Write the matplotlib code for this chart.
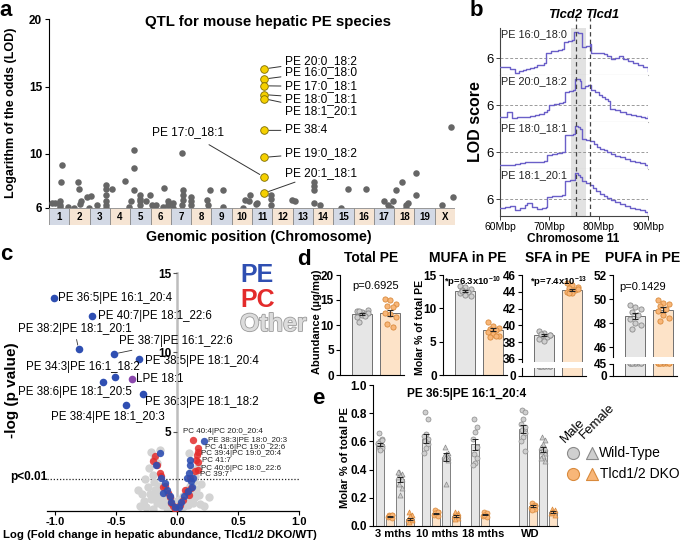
import matplotlib
matplotlib.use("Agg")
import matplotlib.pyplot as plt
import matplotlib.patheffects as pe
from matplotlib.patches import Rectangle
import numpy as np

plt.rcParams["font.family"] = ["Liberation Sans", "DejaVu Sans"]
plt.rcParams["mathtext.fontset"] = "custom"
plt.rcParams["mathtext.rm"] = "Liberation Sans"
plt.rcParams["mathtext.bf"] = "Liberation Sans:bold"

# ---------------- data ----------------
# panel a: QTL hits (chromosome, relative position in chromosome, LOD)
chrom_names = ["1", "2", "3", "4", "5", "6", "7", "8", "9", "10",
               "11", "12", "13", "14", "15", "16", "17", "18", "19", "X"]
qtl_chr = [1, 1, 1, 1, 1, 1, 1, 1, 2, 2, 2, 2, 2, 2, 2, 3, 3, 3, 3, 3, 3, 3, 3,
           4, 4, 4, 5, 5, 5, 5, 5, 5, 5, 5, 5, 5, 6, 6, 6, 6, 6, 6, 6, 7, 7,
           7, 7, 7, 7, 7, 8, 8, 8, 8, 8, 8, 9, 9, 10, 10, 10, 10, 11, 11, 11,
           11, 11, 12, 13, 14, 14, 14, 14, 14, 15, 15, 16, 17, 17, 17, 17, 18,
           18, 18, 18, 18, 19, 19, 20, 20, 20]
qtl_pos = [.15, .30, .54, .54, .54, .64, .59, .94, .23, .43, .48, .58, .55, .87,
           .97, .07, .36, .81, .81, .81, .81, .81, .81, .10, .74, .94, .20, .20,
           .20, .48, .48, .48, .48, .78, .98, .03, .08, .27, .18, .67, .62, .86,
           .86, .10, .10, .55, .60, .60, .60, .55, .00, .00, .00, .78, .82, .93,
           .57, .57, .56, .65, .85, .90, .20, .25, .94, .94, .94, .97, .10, .05,
           .05, .05, .05, .35, .40, .73, .60, .50, .70, .95, .85, .10, .40, .60,
           .70, .60, .10, .10, .36, .90, .80]
qtl_lod = [6.4, 6.4, 6.5, 6.25, 6.05, 9.2, 7.9, 6.1, 6.0, 7.9, 7.4, 6.5, 6.3,
           6.8, 6.0, 6.9, 6.2, 7.7, 7.4, 7.0, 6.5, 6.2, 6.0, 7.4, 8.0, 6.1, 10.3,
           9.0, 7.3, 7.0, 6.7, 6.5, 6.2, 6.5, 7.0, 6.5, 6.25, 6.2, 6.05, 7.5,
           6.05, 6.5, 6.2, 6.4, 6.0, 10.1, 7.3, 7.0, 6.6, 6.2, 6.8, 6.5, 6.2,
           6.6, 6.2, 7.3, 7.3, 6.1, 6.0, 6.6, 6.5, 7.0, 6.3, 6.4, 7.0, 6.7, 6.2,
           6.6, 6.5, 7.9, 7.6, 7.3, 6.4, 6.2, 6.0, 7.4, 7.4, 6.5, 6.2, 6.5, 6.0,
           7.3, 7.9, 6.2, 6.4, 6.0, 8.6, 7.0, 6.2, 6.8, 12.0]
hit_chr = 11
hit_pos = 0.59
hit_names = ["PE 20:0_18:2", "PE 16:0_18:0", "PE 17:0_18:1", "PE 18:0_18:1",
             "PE 18:1_20:1", "PE 38:4", "PE 19:0_18:2", "PE 20:1_18:1"]
hit_lod = [16.3, 15.55, 15.05, 14.4, 14.1, 11.75, 9.75, 7.1]
extra_hit_name = "PE 17:0_18:1"
extra_hit_lod = 8.3

# panel b: LOD profiles along chromosome 11
b_names = ["PE 16:0_18:0", "PE 20:0_18:2", "PE 18:0_18:1", "PE 18:1_20:1"]
b_mbp1 = [60.0, 61.0, 62.0, 63.0, 63.8, 64.6, 65.3, 66.0, 66.8, 67.5, 68.3, 69.0,
          69.4, 70.3, 71.0, 71.8, 72.5, 72.9, 73.8, 74.6, 74.9, 75.8, 76.3, 76.6,
          77.5, 78.3, 78.5, 79.5, 80.5, 81.0, 81.6, 82.6, 83.3, 84.1, 85.0, 86.0,
          87.0, 88.0, 89.0, 90.0]
b_lod1 = [5.3, 5.25, 5.1, 4.8, 4.9, 5.0, 5.1, 5.2, 5.25, 5.4, 5.45, 5.6, 6.45,
          6.55, 6.6, 6.65, 6.75, 7.35, 7.4, 7.5, 8.2, 8.1, 8.05, 6.95, 7.0, 7.2,
          6.4, 6.45, 6.4, 6.35, 6.2, 5.95, 6.0, 6.15, 5.95, 5.8, 5.6, 5.45, 5.3,
          4.9]
b_mbp2 = [60.0, 61.5, 62.5, 63.5, 64.5, 66.0, 67.0, 68.0, 69.0, 69.5, 70.0, 71.0,
          72.0, 72.8, 73.2, 74.0, 74.8, 75.2, 75.7, 76.2, 76.5, 77.2, 77.8, 78.5,
          79.2, 80.0, 80.7, 81.3, 81.9, 82.3, 83.3, 84.3, 85.5, 86.5, 87.5, 88.5,
          89.4, 90.0]
b_lod2 = [5.03, 5.45, 4.9, 5.0, 5.03, 5.1, 5.2, 5.3, 5.45, 5.6, 6.0, 6.08, 6.2,
          6.28, 7.05, 7.15, 7.25, 8.2, 8.15, 8.0, 7.4, 7.55, 7.7, 7.25, 7.05,
          6.85, 6.7, 6.5, 6.35, 5.72, 5.6, 5.45, 5.3, 5.2, 5.1, 5.03, 4.97,
          5.08]
b_mbp3 = [60.0, 61.0, 62.0, 63.0, 64.0, 65.0, 66.0, 67.0, 68.0, 69.0, 69.5, 70.5,
          71.5, 72.5, 73.2, 74.0, 74.8, 75.2, 75.8, 76.3, 76.7, 77.5, 78.3, 79.0,
          79.7, 80.3, 81.0, 81.7, 82.5, 83.3, 84.3, 85.3, 86.4, 87.4, 88.4, 89.4,
          90.0]
b_lod3 = [4.9, 4.95, 4.97, 5.03, 5.08, 5.17, 5.22, 5.17, 5.22, 5.3, 5.78, 5.83,
          5.9, 6.0, 7.4, 7.45, 7.52, 8.15, 8.08, 7.95, 7.05, 6.97, 6.9, 6.7, 6.42,
          6.28, 6.14, 6.0, 5.86, 5.72, 5.58, 5.45, 5.3, 5.17, 5.08, 4.95, 4.6]
b_mbp4 = [60.0, 61.0, 62.0, 63.0, 64.0, 65.0, 65.5, 66.5, 67.5, 68.5, 69.3, 69.5,
          70.5, 71.5, 72.5, 73.2, 74.2, 75.2, 75.8, 76.2, 76.7, 77.5, 78.3, 78.8,
          79.5, 80.3, 81.0, 81.7, 82.5, 83.3, 84.3, 85.3, 86.4, 87.4, 88.4, 89.4,
          90.0]
b_lod4 = [5.25, 5.33, 5.44, 5.1, 5.25, 5.53, 5.67, 5.33, 5.17, 5.25, 5.33, 6.17,
          6.22, 6.28, 6.36, 7.5, 7.58, 8.17, 8.03, 7.83, 7.47, 7.33, 7.2, 6.92,
          6.64, 6.44, 6.22, 6.06, 5.89, 5.78, 5.61, 5.44, 5.3, 5.19, 5.11, 4.97,
          4.7]
tlcd2_mbp = 75.4
tlcd1_mbp = 78.3
peak_band = (74.4, 77.4)

# panel c: volcano plot (log fold change, -log p)
c_named = ["PE 36:5|PE 16:1_20:4", "PE 40:7|PE 18:1_22:6", "PE 38:2|PE 18:1_20:1",
           "PE 38:7|PE 16:1_22:6", "PE 38:5|PE 18:1_20:4", "PE 34:3|PE 16:1_18:2",
           "PE 38:6|PE 18:1_20:5", "PE 36:3|PE 18:1_18:2", "PE 38:4|PE 18:1_20:3"]
c_named_x = [-1.01, -0.694, -0.806, -0.514, -0.309, -0.506, -0.609, -0.279, -0.418]
c_named_y = [13.4, 12.3, 10.2, 9.9, 9.6, 8.45, 8.1, 7.4, 6.65]
c_lpe = ("LPE 18:1", -0.369, 8.33)
c_small = ["PC 40:4|PC 20:0_20:4", "PE 38:3|PE 18:0_20:3", "PC 41:6|PC 19:0_22:6",
           "PC 39:4|PC 19:0_20:4", "PC 41:7", "PC 40:6|PC 18:0_22:6", "PC 39:7"]
c_pe_x = [0.221, 0.104, 0.104, 0.096, 0.085, 0.117, 0.123, 0.09, 0.06, 0.035,
          0.015, 0.135, -0.142, -0.17, -0.13, -0.101, -0.08, -0.06, -0.046,
          -0.02, -0.115]
c_pe_y = [4.4, 3.23, 2.91, 2.38, 2.07, 1.86, 1.54, 1.25, 0.95, 0.55, 0.25, 2.1,
          3.65, 2.91, 2.05, 1.75, 1.35, 0.95, 0.59, 0.25, 1.15]
c_pc_x = [0.131, 0.172, 0.172, 0.167, 0.159, 0.172, 0.145, 0.172, 0.104, 0.117,
          0.063, 0.049, 0.022, 0.08, 0.1, -0.197, -0.183, -0.16, -0.142, -0.13,
          -0.115, -0.1, -0.074, -0.06, -0.046, -0.03, -0.015]
c_pc_y = [4.49, 3.96, 3.75, 3.54, 3.23, 3.1, 2.49, 2.6, 2.07, 1.43, 1.33, 0.7,
          0.38, 1.2, 1.0, 3.12, 3.48, 2.9, 2.4, 2.2, 1.54, 1.6, 1.13, 0.9, 0.5,
          0.3, 0.1]
c_oth_x = [-0.21, -0.14, 0.10, -0.19, -0.23, -0.20, -0.26, -0.32, -0.29, -0.27,
           -0.24, -0.22, -0.21, -0.19, -0.18, -0.17, -0.16, -0.15, -0.14, -0.13,
           -0.12, -0.11, -0.10, -0.09, -0.08, -0.07, -0.06, -0.05, -0.04, -0.03,
           -0.02, -0.01, 0.0, 0.01, 0.02, 0.03, 0.04, 0.05, 0.06, 0.07, 0.08,
           0.09, 0.10, 0.11, 0.12, 0.13, 0.14, 0.15, 0.16, 0.18, 0.19, 0.20,
           0.265, 0.12, 0.15, -0.30, -0.25, -0.20, 0.22, 0.17, -0.16]
c_oth_y = [3.7, 3.86, 3.65, 3.3, 2.7, 2.3, 2.0, 1.3, 1.05, 0.6, 1.5, 1.1, 0.75,
           1.8, 1.35, 0.9, 0.5, 1.6, 1.15, 0.7, 0.35, 1.4, 0.9, 0.55, 0.2, 1.05,
           0.7, 0.4, 0.15, 0.6, 0.3, 0.1, 0.45, 0.2, 0.7, 0.1, 0.4, 0.95, 0.3,
           0.65, 1.3, 0.4, 0.8, 1.6, 1.15, 0.5, 1.9, 0.9, 1.4, 1.0, 0.45, 1.7,
           0.87, 2.6, 2.2, 0.3, 0.25, 0.15, 0.3, 2.8, 3.0]
c_threshold = 2.0

# panel d: PE composition (WT vs DKO)
d_titles = ["Total PE", "MUFA in PE", "SFA in PE", "PUFA in PE"]
d_pvals = ["p=0.6925", "*p=6.3x10", "*p=7.4x10", "p=0.1429"]
d_pexp = [None, "-10", "-13", None]
d_mean_wt = [12.2, 12.6, 38.8, 48.6]
d_mean_ko = [12.4, 6.8, 44.2, 49.1]
d_pts_wt = [[12.9, 12.6, 13.1, 12.8, 12.2, 11.6, 12.0, 12.4, 10.7, 11.9],
            [13.4, 13.2, 12.9, 12.7, 12.5, 12.3, 12.0, 11.9, 12.6],
            [39.3, 39.1, 38.9, 38.7, 38.6, 38.4, 38.2, 38.9, 39.0],
            [49.5, 49.3, 49.2, 48.9, 48.7, 48.3, 48.0, 47.8, 47.5]]
d_pts_ko = [[15.2, 15.0, 14.2, 13.9, 13.6, 12.4, 12.2, 11.6, 10.2, 9.6],
            [7.9, 7.3, 7.1, 6.9, 6.8, 6.5, 6.2, 5.9, 5.7, 5.8],
            [45.0, 44.8, 44.6, 44.4, 44.2, 44.0, 43.8, 44.3, 43.9],
            [49.9, 49.7, 49.6, 49.4, 49.2, 49.0, 48.7, 48.4, 48.2]]

# panel e: PE 36:5 by age / diet
e_groups = ["3 mths", "10 mths", "18 mths", "WD"]
e_sex = ["M", "M", "F", "F", "M", "M", "F", "F", "M", "M", "M", "M", "F", "F"]
e_geno = ["WT", "KO", "WT", "KO", "WT", "KO", "WT", "KO", "WT", "KO", "WT", "KO", "WT", "KO"]
e_mean = [0.58, 0.07, 0.33, 0.05, 0.62, 0.09, 0.49, 0.07, 0.58, 0.08, 0.69, 0.14, 0.54, 0.10]
e_points = [[0.66, 0.62, 0.60, 0.58, 0.57, 0.56, 0.55, 0.54, 0.59, 0.61],
            [0.08, 0.075, 0.07, 0.065, 0.06, 0.07, 0.08],
            [0.38, 0.37, 0.36, 0.35, 0.33, 0.30, 0.27, 0.22, 0.38],
            [0.10, 0.08, 0.06, 0.05, 0.04, 0.03, 0.05, 0.07],
            [0.81, 0.76, 0.65, 0.64, 0.62, 0.60, 0.58, 0.55, 0.52],
            [0.11, 0.10, 0.09, 0.08, 0.07, 0.09, 0.10],
            [0.56, 0.52, 0.51, 0.50, 0.49, 0.48, 0.47, 0.30],
            [0.10, 0.09, 0.08, 0.07, 0.06, 0.05, 0.08],
            [0.76, 0.70, 0.67, 0.62, 0.56, 0.51, 0.48, 0.45, 0.43],
            [0.10, 0.09, 0.08, 0.07, 0.065, 0.08],
            [0.82, 0.81, 0.76, 0.72, 0.70, 0.68, 0.66, 0.63, 0.60, 0.53],
            [0.16, 0.15, 0.14, 0.13, 0.12, 0.11, 0.14],
            [0.63, 0.61, 0.58, 0.56, 0.55, 0.53, 0.52, 0.50, 0.48, 0.46],
            [0.12, 0.11, 0.10, 0.09, 0.08, 0.10]]

# ---------------- styles ----------------
W, H = 685, 542
GRAY_BAR = "#e6e6e6"
PEACH_BAR = "#fde3c8"
GRAY_DOT, GRAY_EDGE = "#cfcfcf", "#8a8a8a"
PEACH_DOT, PEACH_EDGE = "#f8b678", "#d98a3c"
BLUE, RED, PURPLE = "#2f4fb2", "#e32b2b", "#8b49ad"
LINE_B = "#6a5fc8"

fig = plt.figure(figsize=(6.85, 5.42), dpi=100)


def px_axes(x0, y0, x1, y1):
    return fig.add_axes([x0 / W, 1 - y1 / H, (x1 - x0) / W, (y1 - y0) / H])


def ftext(x, y, s, **kw):
    fig.text(x / W, 1 - y / H, s, **kw)


def bold_ticks(ax, size=8):
    for lab in ax.get_xticklabels() + ax.get_yticklabels():
        lab.set_fontweight("bold")
        lab.set_fontsize(size)


for letter, (lx, ly) in zip("abcde", [(6, 11), (476, 10), (6, 255), (304, 259), (318, 398)]):
    ftext(lx, ly, letter, fontsize=16, fontweight="bold", ha="center", va="center")

# ---------------- panel a ----------------
ax = px_axes(49, 19, 455, 208)
qx = np.array(qtl_chr) - 1 + np.array(qtl_pos)
ax.scatter(qx, qtl_lod, s=22, color="#666666", linewidths=0, clip_on=False, zorder=3)
hx = hit_chr - 1 + hit_pos
ax.scatter([hx] * (len(hit_lod) + 1), hit_lod + [extra_hit_lod], s=30, facecolor="#f5d000",
           edgecolor="#7d6b00", linewidths=0.6, zorder=4, clip_on=False)
label_y = [16.9, 16.1, 15.0, 14.1, 13.2, 11.75, 10.1, 8.6]
for name, lod, ty in zip(hit_names, hit_lod, label_y):
    ax.annotate(name, xy=(hx, lod), xytext=(11.63, ty), fontsize=8.6, ha="left", va="center",
                arrowprops=dict(arrowstyle="-", color="#333333", lw=0.7, shrinkA=1, shrinkB=3.5))
ax.annotate(extra_hit_name, xy=(hx, extra_hit_lod), xytext=(6.85, 11.6), fontsize=8.6,
            ha="center", va="center",
            arrowprops=dict(arrowstyle="-", color="#333333", lw=0.7, shrinkA=5, shrinkB=3.5))
ax.set_xlim(0, 20)
ax.set_ylim(6, 20)
for s in ["top", "right", "bottom"]:
    ax.spines[s].set_visible(False)
ax.spines["left"].set_linewidth(0.8)
ax.set_xticks([])
ax.set_yticks([6, 10, 15, 20])
ax.tick_params(axis="y", length=3, width=0.8, pad=2)
bold_ticks(ax, 8.5)
ftext(268, 22, "QTL for mouse hepatic PE species", fontsize=10.8, fontweight="bold",
      ha="center", va="center")
ftext(11, 113, "Logarithm of the odds (LOD)", fontsize=9, fontweight="bold", rotation=90,
      ha="center", va="center")
ftext(259, 237, "Genomic position (Chromosome)", fontsize=10.3, fontweight="bold",
      ha="center", va="center")

cb = px_axes(49, 208, 455, 225)
cb.set_xlim(0, 20)
cb.set_ylim(0, 1)
cb.axis("off")
for i, nm in enumerate(chrom_names):
    cb.add_patch(Rectangle((i, 0), 1, 1, facecolor="#d3d9e5" if i % 2 == 0 else "#f6e5d4",
                           edgecolor="#8a8a8a", lw=0.6))
    cb.text(i + 0.5, 0.45, nm, fontsize=7, fontweight="bold", ha="center", va="center")

# ---------------- panel b ----------------
curves = [(b_mbp1, b_lod1), (b_mbp2, b_lod2), (b_mbp3, b_lod3), (b_mbp4, b_lod4)]
for i, (name, (mx, ly)) in enumerate(zip(b_names, curves)):
    top = 28 + 47 * i
    bx = px_axes(500, top, 648, top + 47)
    bx.axvspan(*peak_band, color="#e2e2e2", lw=0, zorder=0)
    bx.axhline(6, color="#9a9a9a", ls=(0, (3, 2)), lw=0.7, zorder=1)
    bx.plot(mx, ly, color=LINE_B, lw=1.0, drawstyle="steps-post", zorder=3)
    bx.set_xlim(60, 90)
    bx.set_ylim(4.6, 8.5)
    bx.spines["top"].set_visible(False)
    bx.spines["right"].set_visible(False)
    bx.spines["left"].set_color("#444444")
    bx.spines["left"].set_linewidth(0.8)
    bx.set_yticks([6])
    bx.set_yticklabels(["6"], fontsize=9.5)
    bx.tick_params(axis="y", length=3, width=0.7, pad=1.5, color="#444444")
    bx.text(0.005, 0.98, name, transform=bx.transAxes, fontsize=7.8, ha="left", va="top",
            color="#222222", zorder=5)
    if i < 3:
        bx.spines["bottom"].set_color("#b0b0b0")
        bx.spines["bottom"].set_linewidth(0.8)
        bx.set_xticks([])
    else:
        bx.spines["bottom"].set_color("#444444")
        bx.spines["bottom"].set_linewidth(0.8)
        bx.set_xticks([60, 70, 80, 90])
        bx.set_xticklabels(["60Mbp", "70Mbp", "80Mbp", "90Mbp"], fontsize=7.5)
        bx.tick_params(axis="x", length=3, width=0.7, pad=1.5, color="#444444")
ov = px_axes(500, 18, 648, 216)
ov.set_xlim(60, 90)
ov.axis("off")
ov.patch.set_alpha(0)
for m in [tlcd2_mbp, tlcd1_mbp]:
    ov.axvline(m, color="#444444", ls=(0, (3.5, 2.5)), lw=0.9)
ftext(565, 15, "Tlcd2", fontsize=9.4, fontweight="bold", fontstyle="italic", ha="center", va="center")
ftext(602, 15, "Tlcd1", fontsize=9.4, fontweight="bold", fontstyle="italic", ha="center", va="center")
ftext(475, 122, "LOD score", fontsize=11.5, fontweight="bold", rotation=90, ha="center", va="center")
ftext(573, 239, "Chromosome 11", fontsize=8.6, fontweight="bold", ha="center", va="center")

# ---------------- panel c ----------------
cx = px_axes(47, 273, 299, 511)
cx.scatter(c_oth_x, c_oth_y, s=36, color="#d3d3d3", linewidths=0, zorder=2)
cx.scatter(c_pc_x, c_pc_y, s=28, color=RED, alpha=0.85, linewidths=0, zorder=3)
cx.scatter(c_pe_x, c_pe_y, s=28, color=BLUE, alpha=0.9, linewidths=0, zorder=4)
cx.scatter(c_named_x, c_named_y, s=30, color=BLUE, linewidths=0, zorder=5)
cx.scatter([c_lpe[1]], [c_lpe[2]], s=30, color=PURPLE, linewidths=0, zorder=5)
cx.axhline(c_threshold, color="#222222", ls=(0, (1, 1.5)), lw=0.9, zorder=1)

named_text = [(-0.975, 13.4, "left"), (-0.648, 12.3, "left"), (-0.84, 11.45, "center"),
              (-0.475, 10.7, "left"), (-0.262, 9.43, "left"), (-1.24, 9.05, "left"),
              (-0.836, 7.53, "center"), (-0.262, 6.84, "left"), (-0.566, 5.95, "center")]
for name, x, y, (tx, ty, ha) in zip(c_named, c_named_x, c_named_y, named_text):
    if name.startswith("PE 38:2") or name.startswith("PE 38:7"):
        cx.annotate(name, xy=(x, y), xytext=(tx, ty), fontsize=8.3, ha=ha, va="center",
                    arrowprops=dict(arrowstyle="-", color="#333333", lw=0.6, shrinkA=1, shrinkB=3))
    else:
        cx.text(tx, ty, name, fontsize=8.3, ha=ha, va="center", zorder=6)
cx.text(-0.336, c_lpe[2], c_lpe[0], fontsize=8.3, ha="left", va="center", zorder=6)
small_pos = [(0.05, 5.0), (0.254, 4.43), (0.23, 3.99), (0.197, 3.6), (0.205, 3.16),
             (0.197, 2.66), (0.189, 2.28)]
for name, (tx, ty) in zip(c_small, small_pos):
    cx.text(tx, ty, name, fontsize=5.8, ha="left", va="center", color="#222222", zorder=6)

cx.set_xlim(-1.065, 1.0)
cx.set_ylim(0, 15)
cx.spines["top"].set_visible(False)
cx.spines["right"].set_visible(False)
cx.spines["left"].set_position(("data", 0))
cx.spines["left"].set_color("#bdbdbd")
cx.spines["left"].set_linewidth(1.8)
cx.spines["left"].set_zorder(0)
cx.spines["bottom"].set_linewidth(0.9)
cx.set_yticks([5, 10, 15])
cx.set_xticks([-1.0, -0.5, 0.0, 0.5, 1.0])
cx.set_xticklabels(["-1.0", "-0.5", "0.0", "0.5", "1.0"])
cx.tick_params(axis="y", length=3, width=0.8, pad=1, color="#555555")
cx.tick_params(axis="x", length=3, width=0.8, pad=1)
bold_ticks(cx, 8.5)
for lab in cx.get_xticklabels():
    lab.set_fontsize(8)
ftext(12, 390, "-log (p value)", fontsize=11, fontweight="bold", rotation=90, ha="center", va="center")
ftext(160, 534.5, "Log (Fold change in hepatic abundance, Tlcd1/2 DKO/WT)", fontsize=8.2,
      fontweight="bold", ha="center", va="center")
ftext(29, 477, "p<0.01", fontsize=8.5, fontweight="bold", ha="center", va="center")
ftext(240, 275, "PE", fontsize=18, fontweight="bold", color=BLUE, ha="left", va="center")
ftext(240, 300, "PC", fontsize=18, fontweight="bold", color=RED, ha="left", va="center")
ftext(240, 324, "Other", fontsize=18, fontweight="bold", color="#dcdcdc", ha="left", va="center",
      path_effects=[pe.withStroke(linewidth=1.2, foreground="#9a9a9a")])


# ---------------- panel d ----------------
def bar_pair(axs, wt_mean, ko_mean, wt_pts, ko_pts):
    offs_w = np.resize([-0.2, 0.0, 0.2, -0.1, 0.1], len(wt_pts))
    offs_k = np.resize([-0.2, 0.0, 0.2, -0.1, 0.1], len(ko_pts))
    for a in axs:
        a.bar([0, 1], [wt_mean, ko_mean], width=0.72, color=[GRAY_BAR, PEACH_BAR],
              edgecolor="#707070", lw=0.7, zorder=1)
        a.scatter(0 + offs_w, wt_pts, s=14, facecolor=GRAY_DOT, edgecolor=GRAY_EDGE,
                  linewidths=0.6, zorder=3)
        a.scatter(1 + offs_k, ko_pts, s=14, facecolor=PEACH_DOT, edgecolor=PEACH_EDGE,
                  linewidths=0.6, zorder=3)
        for xi, m, pts in [(0, wt_mean, wt_pts), (1, ko_mean, ko_pts)]:
            sem = np.std(pts, ddof=1) / np.sqrt(len(pts))
            a.errorbar(xi, m, yerr=sem, color="#222222", capsize=2.5, lw=0.8,
                       capthick=0.8, zorder=4)
        a.set_xlim(-0.8, 1.5)
        a.set_xticks([])
        a.spines["top"].set_visible(False)
        a.spines["right"].set_visible(False)
        a.spines["left"].set_linewidth(0.8)
        a.spines["bottom"].set_linewidth(0.8)
        a.tick_params(axis="y", length=3, width=0.8, pad=1.5)


d_boxes = [(340, None), (443, None), (522, (362, 368)), (613, (357, 364))]
d_ylims = [(0, 20), (0, 15), (35.64, 46), (45.17, 52)]
d_lowlims = [None, None, (0, 30), (0, 45)]
d_ticks = [[0, 5, 10, 15, 20], [0, 5, 10, 15], [36, 38, 40, 42, 44, 46], [46, 48, 50, 52]]
d_lowticks = [None, None, [0], [0, 45]]
d_title_x = [371, 468, 558, 643]
d_p_xy = [(376, 286), (473, 282), (559, 282), (643, 287)]
for k in range(4):
    x0, brk = d_boxes[k]
    if brk is None:
        up = px_axes(x0, 275, x0 + 64, 375)
        axs = [up]
    else:
        up = px_axes(x0, 275, x0 + 64, brk[0])
        lo = px_axes(x0, brk[1], x0 + 64, 376)
        axs = [up, lo]
    bar_pair(axs, d_mean_wt[k], d_mean_ko[k], d_pts_wt[k], d_pts_ko[k])
    up.set_ylim(*d_ylims[k])
    up.set_yticks(d_ticks[k])
    if brk is not None:
        up.spines["bottom"].set_visible(False)
        lo.set_ylim(*d_lowlims[k])
        lo.set_yticks(d_lowticks[k])
        bold_ticks(lo, 8.5)
    bold_ticks(up, 8.5)
    ftext(d_title_x[k], 258, d_titles[k], fontsize=10, fontweight="bold", ha="center", va="center")
    if d_pexp[k] is None:
        ftext(*d_p_xy[k], d_pvals[k], fontsize=8, ha="center", va="center")
    else:
        ftext(*d_p_xy[k], d_pvals[k] + r"$^{\mathbf{" + d_pexp[k] + "}}$", fontsize=6.8,
              fontweight="bold", ha="center", va="center")
ftext(317, 322, "Abundance (\u00b5g/mg)", fontsize=8, fontweight="bold", rotation=90,
      ha="center", va="center")
ftext(420, 327, "Molar % of total PE", fontsize=7.6, fontweight="bold", rotation=90,
      ha="center", va="center")

# ---------------- panel e ----------------
ex = px_axes(373, 385, 558, 526)
e_pos = [0, 1, 2, 3, 4.6, 5.6, 6.6, 7.6, 9.5, 10.5, 14.3, 15.3, 16.3, 17.3]
for xp, m, pts, sex, geno in zip(e_pos, e_mean, e_points, e_sex, e_geno):
    wt = geno == "WT"
    ex.bar(xp, m, width=0.85, color=GRAY_BAR if wt else PEACH_BAR, edgecolor="#6e6e6e",
           lw=0.6, zorder=1)
    offs = np.resize([-0.15, 0.15, 0.0, -0.22, 0.22], len(pts))
    ex.scatter(xp + offs, pts, s=13, marker="o" if sex == "M" else "^",
               facecolor=GRAY_DOT if wt else PEACH_DOT, edgecolor=GRAY_EDGE if wt else PEACH_EDGE,
               linewidths=0.5, zorder=3)
    sem = np.std(pts, ddof=1) / np.sqrt(len(pts))
    ex.errorbar(xp, m, yerr=sem, color="#222222", capsize=2, lw=0.7, capthick=0.7, zorder=4)
ex.set_xlim(-0.7, 17.8)
ex.set_ylim(0, 1.0)
ex.set_yticks([0.0, 0.2, 0.4, 0.6, 0.8, 1.0])
ex.set_yticklabels(["0.0", "0.2", "0.4", "0.6", "0.8", "1.0"])
ex.set_xticks([1.3, 5.7, 10.3, 15.0])
ex.set_xticklabels(e_groups)
ex.tick_params(axis="x", length=0, pad=2)
ex.tick_params(axis="y", length=3, width=0.8, pad=1.5)
ex.spines["top"].set_visible(False)
ex.spines["right"].set_visible(False)
ex.spines["left"].set_linewidth(0.8)
ex.spines["bottom"].set_linewidth(0.8)
bold_ticks(ex, 8.5)
for lab in ex.get_xticklabels():
    lab.set_fontsize(8)
ftext(467, 394, "PE 36:5|PE 16:1_20:4", fontsize=8.6, fontweight="bold", ha="center", va="center")
ftext(345, 458, "Molar % of total PE", fontsize=8, fontweight="bold", rotation=90,
      ha="center", va="center")

# legend for panel e
lg = px_axes(560, 390, 685, 490)
lg.set_xlim(560, 685)
lg.set_ylim(490, 390)
lg.axis("off")
lg.patch.set_alpha(0)
lg.scatter([573], [453], s=75, marker="o", facecolor=GRAY_DOT, edgecolor=GRAY_EDGE, lw=0.8)
lg.scatter([592], [453], s=75, marker="^", facecolor=GRAY_DOT, edgecolor=GRAY_EDGE, lw=0.8)
lg.scatter([573], [474], s=75, marker="o", facecolor=PEACH_DOT, edgecolor=PEACH_EDGE, lw=0.8)
lg.scatter([592], [474], s=75, marker="^", facecolor=PEACH_DOT, edgecolor=PEACH_EDGE, lw=0.8)
lg.text(599, 453, "Wild-Type", fontsize=10, ha="left", va="center")
lg.text(600, 474, "Tlcd1/2 DKO", fontsize=10, ha="left", va="center")
lg.text(567, 445, "Male", fontsize=9.5, rotation=45, rotation_mode="anchor", ha="left", va="bottom")
lg.text(586, 441, "Female", fontsize=9.5, rotation=45, rotation_mode="anchor", ha="left", va="bottom")

fig.savefig("out.png", dpi=100)
